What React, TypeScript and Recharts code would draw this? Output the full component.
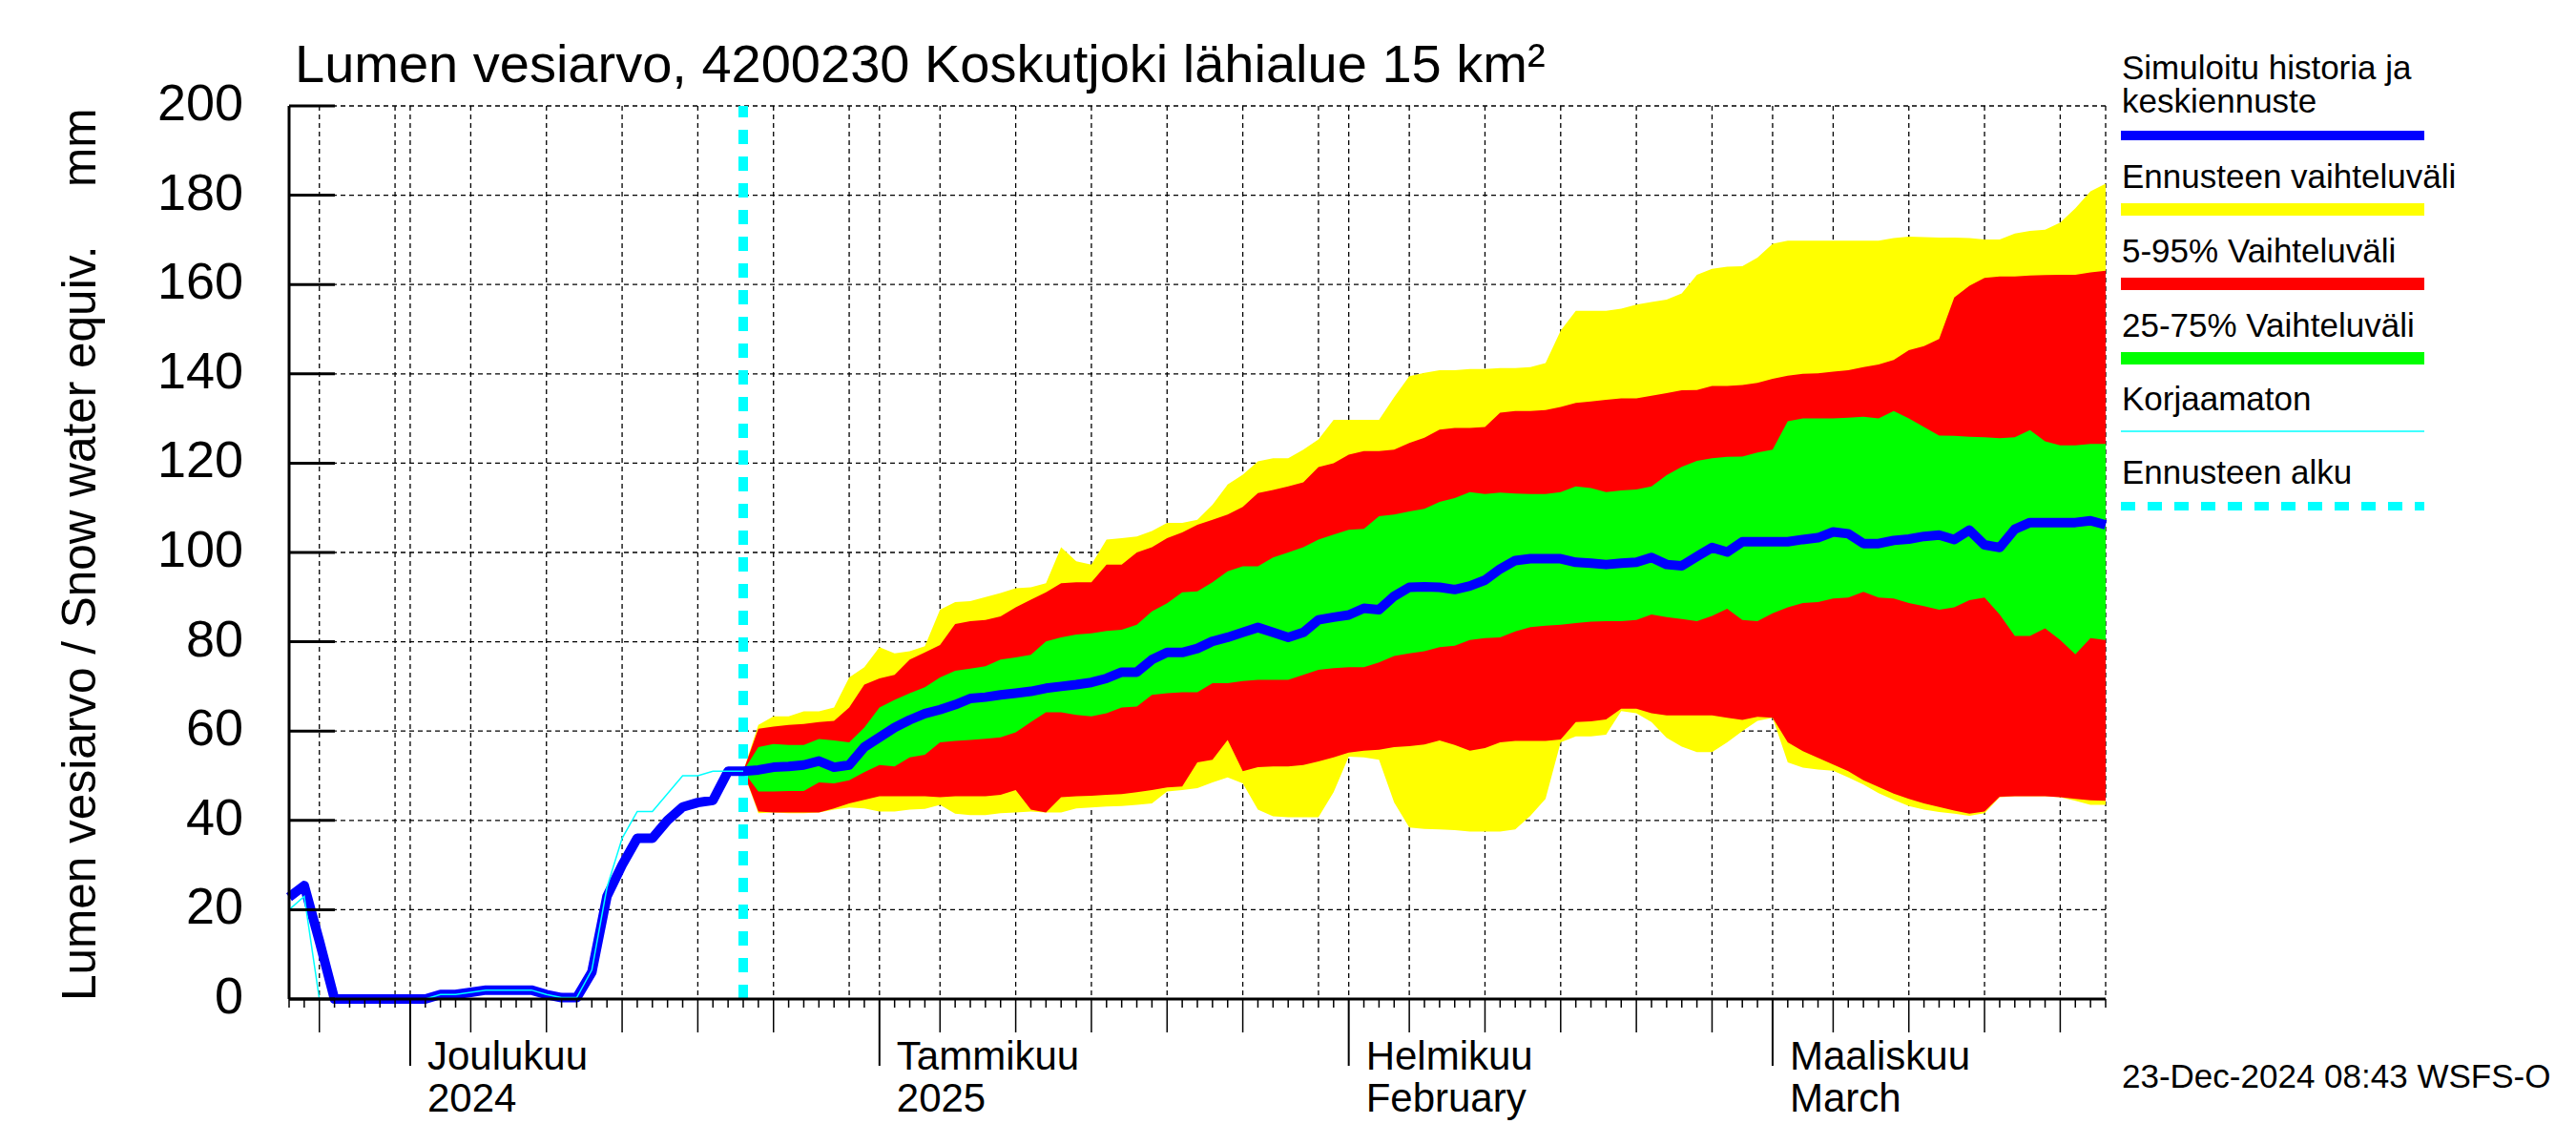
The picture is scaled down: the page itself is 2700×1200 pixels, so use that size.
import React from 'react';
import {
  ComposedChart,
  Area,
  Line,
  XAxis,
  YAxis,
  CartesianGrid,
  ReferenceLine,
} from 'recharts';

// day 0 = 23 Nov 2024, day 120 = 23 Mar 2025
const DAY_COUNT = 121;
const FORECAST_START = 30;

// simulated history (days 0..30)
const historySwe = [
  22.8, 25.4, 13, 0, 0, 0, 0, 0, 0, 0, 1, 1, 1.5, 2, 2, 2, 2, 1, 0.3, 0.3,
  6, 23, 30, 36, 36, 40, 43, 44, 44.5, 51, 51,
];
// uncorrected (Korjaamaton), days 0..30
const historyRaw = [
  20, 23, 0, 0, 0, 0, 0, 0, 0, 0, 1, 1, 1.5, 2, 2, 2, 2, 1, 0.3, 0.3,
  6.5, 25, 36, 42, 42, 46, 50, 50, 51, 51, 51,
];

// forecast, days 30..120
const fcMax = [
  51, 61.4, 63.3, 63.3, 64.4, 64.4, 65.3, 72, 74.3, 78.8,
  77.4, 77.9, 79, 87.2, 88.9, 89.1, 90, 90.9, 92, 92.2,
  93.1, 101.2, 98, 97.3, 102.9, 103.2, 103.6, 104.8, 106.6, 106.6,
  107.3, 110.7, 115.2, 117.4, 120.4, 121.1, 121.1, 123, 125.3, 129.7,
  129.7, 129.7, 129.7, 134.8, 139.5, 140.2, 140.8, 140.8, 141.1, 141.1,
  141.3, 141.3, 141.5, 142.4, 149.7, 154.1, 154.1, 154.1, 154.6, 155.5,
  156.1, 156.6, 158, 162.2, 163.5, 164, 164.1, 166, 169.1, 169.8,
  169.8, 169.8, 169.8, 169.8, 169.8, 169.8, 170.4, 170.7, 170.6, 170.5,
  170.5, 170.4, 170.1, 170.1, 171.4, 172, 172.3, 173.9, 177.1, 180.9,
  182.6,
];
const fcP95 = [
  51, 60.5, 61, 61.4, 61.6, 62, 62.3, 65.3, 70.4, 71.8,
  72.6, 76, 77.6, 79.3, 84, 84.6, 84.9, 85.7, 87.7, 89.4,
  91.1, 93.1, 93.3, 93.3, 97.3, 97.3, 100, 101.2, 103.2, 104.5,
  106.2, 107.3, 108.5, 110.2, 113.3, 114, 114.8, 115.7, 119.1, 120,
  121.9, 122.7, 122.7, 123, 124.5, 125.7, 127.5, 127.9, 127.9, 128.1,
  131.3, 131.7, 131.7, 131.9, 132.6, 133.5, 133.8, 134.2, 134.5, 134.5,
  135.1, 135.7, 136.3, 136.4, 137.3, 137.3, 137.5, 138, 138.9, 139.6,
  140, 140.1, 140.5, 140.8, 141.5, 142.1, 143.1, 145.3, 146.2, 147.8,
  157.1, 159.7, 161.5, 161.8, 161.8, 162, 162.1, 162.2, 162.2, 162.7,
  163.1,
];
const fcP75 = [
  51, 56.4, 57.1, 56.9, 56.9, 58.2, 57.9, 57.5, 60.8, 65.3,
  67, 68.5, 69.8, 72, 73.5, 74, 74.5, 76, 76.5, 77.1,
  80.1, 81, 81.6, 81.9, 82.4, 82.7, 83.8, 86.8, 88.6, 91.1,
  91.3, 93.3, 95.8, 96.9, 96.9, 98.9, 100, 101.2, 102.9, 104,
  105.1, 105.3, 108.1, 108.5, 109.2, 109.8, 111.3, 112.2, 113.5, 113.1,
  113.4, 113.2, 113.1, 113.1, 113.5, 114.8, 114.4, 113.5, 113.9, 114.1,
  114.8, 117.3, 119.2, 120.5, 121.1, 121.4, 121.5, 122.4, 123, 129.4,
  130, 130, 130, 130.2, 130.4, 130, 131.7, 130, 128.1, 126.2,
  126.1, 125.9, 125.8, 125.6, 125.8, 127.4, 124.9, 124, 124, 124.3,
  124.3,
];
const fcMedian = [
  51, 51.3, 51.9, 52.1, 52.4, 53.3, 51.9, 52.4, 56.4, 58.6,
  60.8, 62.5, 63.9, 64.8, 65.9, 67.3, 67.6, 68.1, 68.5, 68.9,
  69.6, 70, 70.4, 70.9, 71.8, 73.2, 73.2, 76, 77.6, 77.6,
  78.5, 80.1, 81, 82.1, 83.2, 82.1, 81, 82.1, 84.9, 85.5,
  86, 87.5, 87.2, 90.2, 92.2, 92.3, 92.2, 91.7, 92.5, 93.8,
  96.3, 98.2, 98.6, 98.6, 98.6, 97.8, 97.6, 97.3, 97.6, 97.8,
  98.9, 97.3, 97, 99.1, 101.1, 100.1, 102.4, 102.4, 102.4, 102.4,
  102.9, 103.3, 104.6, 104.2, 102, 102, 102.7, 103, 103.6, 103.9,
  102.9, 105, 101.7, 101.1, 105.2, 106.7, 106.7, 106.7, 106.7, 107.1,
  106.2,
];
const fcP25 = [
  51, 46.5, 46.5, 46.6, 46.6, 48.5, 48.3, 49, 50.8, 52.4,
  52.1, 54.1, 54.7, 57.5, 57.8, 58, 58.3, 58.6, 59.7, 62,
  64.2, 64.2, 63.6, 63.3, 64, 65.3, 65.5, 68.1, 68.5, 68.7,
  68.7, 70.7, 70.7, 71.2, 71.5, 71.5, 71.5, 72.6, 73.7, 74.1,
  74.3, 74.3, 75.4, 76.8, 77.4, 77.9, 78.8, 79.1, 80.4, 80.8,
  81, 82.3, 83.3, 83.6, 83.8, 84.2, 84.5, 84.6, 84.6, 84.9,
  86.1, 85.5, 85.1, 84.6, 85.8, 87.4, 84.9, 84.6, 86.4, 87.7,
  88.7, 88.9, 89.7, 89.9, 91.2, 89.9, 89.7, 88.7, 88, 87.2,
  87.7, 89.3, 89.9, 86.1, 81.3, 81.3, 83, 80.4, 77.2, 80.8,
  80.4,
];
const fcP5 = [
  51, 42, 41.8, 41.8, 41.8, 41.8, 42.7, 43.8, 44.6, 45.4,
  45.4, 45.4, 45.4, 45.2, 45.4, 45.4, 45.4, 45.7, 46.8, 42.4,
  41.8, 45.2, 45.4, 45.5, 45.7, 45.9, 46.3, 46.8, 47.4, 47.6,
  53, 53.6, 58, 51, 51.9, 52.1, 52.1, 52.4, 53.2, 54.1,
  55.2, 55.6, 55.8, 56.4, 56.6, 57, 57.9, 56.9, 55.6, 56.2,
  57.5, 57.8, 57.8, 57.8, 58.1, 62, 62.2, 62.6, 65, 65,
  64, 63.5, 63.5, 63.5, 63.5, 63, 62.5, 63.2, 63, 57.5,
  55.5, 54, 52.5, 51, 49, 47.5, 46, 44.8, 43.8, 43,
  42.2, 41.5, 42, 45.3, 45.4, 45.4, 45.4, 45.2, 44.8, 44.5,
  44.4,
];
const fcMin = [
  51, 41.6, 41.8, 41.6, 41.6, 41.8, 42.4, 42.9, 42.7, 42,
  42, 42.4, 42.6, 43.5, 41.5, 41.2, 41.2, 41.6, 41.8, 42,
  41.8, 41.8, 42.7, 42.9, 43.1, 43.2, 43.5, 43.8, 46.5, 46.8,
  47.2, 48.5, 49.6, 48.3, 42.4, 40.9, 40.7, 40.7, 40.7, 46.3,
  54.3, 54.1, 53.6, 44, 38.4, 38.1, 38, 37.8, 37.5, 37.5,
  37.5, 38, 41, 44.8, 57.5, 58.8, 58.8, 59.2, 64.5, 64,
  62, 58.5, 56.5, 55.3, 55.3, 57.5, 60, 62.3, 63, 53,
  51.8, 51.4, 51.1, 49.6, 48, 46.1, 44.6, 43.2, 42.4, 41.9,
  41.5, 41, 41.6, 45.2, 45.4, 45.4, 45.4, 45.2, 44.4, 43.5,
  43.5,
];

// x axis
const monthStartDays = [8, 39, 70, 98];
const monthLabels = [
  ['Joulukuu', '2024'],
  ['Tammikuu', '2025'],
  ['Helmikuu', 'February'],
  ['Maaliskuu', 'March'],
];
const fiveDayTicks = [2, 12, 17, 22, 27, 32, 43, 48, 53, 58, 63, 74, 79, 84, 89, 94, 102, 107, 112, 117];
const gridDays = [2, 7, 8, 12, 17, 22, 27, 32, 37, 39, 43, 48, 53, 58, 63, 68, 70, 74, 79, 84, 89, 94, 98, 102, 107, 112, 117, 120];
const allDays = Array.from({ length: DAY_COUNT }, (_, i) => i);
const yTicks = [0, 20, 40, 60, 80, 100, 120, 140, 160, 180, 200];

const FONT = '"Liberation Sans", Arial, Helvetica, sans-serif';

const data = allDays.map((day) => {
  const f = day - FORECAST_START;
  const inFc = f >= 0;
  return {
    day,
    swe: day <= FORECAST_START ? historySwe[day] : fcMedian[f],
    raw: day <= FORECAST_START ? historyRaw[day] : undefined,
    full: inFc ? [fcMin[f], fcMax[f]] : undefined,
    p595: inFc ? [fcP5[f], fcP95[f]] : undefined,
    p2575: inFc ? [fcP25[f], fcP75[f]] : undefined,
  };
});

const DayTick = (props: any) => {
  const { x, y, payload } = props;
  const d = payload.value;
  const m = monthStartDays.indexOf(d);
  const len = m >= 0 ? 70 : fiveDayTicks.includes(d) ? 35 : 9;
  return (
    <g>
      <line x1={x} x2={x} y1={y} y2={y + len} stroke="#000" strokeWidth={m >= 0 ? 2 : 1.5} />
      {m >= 0 && (
        <text fontFamily={FONT} fontSize={42} fill="#000">
          <tspan x={x + 18} y={y + 74}>{monthLabels[m][0]}</tspan>
          <tspan x={x + 18} y={y + 118}>{monthLabels[m][1]}</tspan>
        </text>
      )}
    </g>
  );
};

const ValueTick = (props: any) => {
  const { x, y, payload } = props;
  return (
    <g>
      <line x1={x} x2={x + 48} y1={y} y2={y} stroke="#000" strokeWidth={3} />
      <text x={x - 48} y={y + 15} textAnchor="end" fontFamily={FONT} fontSize={54} fill="#000">
        {payload.value}
      </text>
    </g>
  );
};

const legendText = [
  'Ennusteen vaihteluväli',
  '5-95% Vaihteluväli',
  '25-75% Vaihteluväli',
];
const bandColors = ['#FFFF00', '#FF0000', '#00FF00'];

const Overlay = () => (
  <svg
    width={2700}
    height={1200}
    style={{ position: 'absolute', left: 0, top: 0, pointerEvents: 'none' }}
  >
    <text x={309} y={86} fontFamily={FONT} fontSize={56} fill="#000">
      Lumen vesiarvo, 4200230 Koskutjoki lähialue 15 km²
    </text>
    <text transform="translate(100,1049) rotate(-90)" fontFamily={FONT} fontSize={49.5} fill="#000">
      Lumen vesiarvo / Snow water equiv.
    </text>
    <text transform="translate(100,196) rotate(-90)" fontFamily={FONT} fontSize={49.5} fill="#000">
      mm
    </text>

    <g fontFamily={FONT} fontSize={35} fill="#000">
      <text x={2224} y={83}>Simuloitu historia ja</text>
      <text x={2224} y={118}>keskiennuste</text>
      <rect x={2223} y={137} width={318} height={10} fill="#0000FF" />
      {legendText.map((t, i) => (
        <g key={t}>
          <text x={2224} y={197 + i * 78}>{t}</text>
          <rect x={2223} y={213 + i * 78} width={318} height={13} fill={bandColors[i]} />
        </g>
      ))}
      <text x={2224} y={430}>Korjaamaton</text>
      <line x1={2223} x2={2541} y1={452} y2={452} stroke="#00FFFF" strokeWidth={1.5} />
      <text x={2224} y={507}>Ennusteen alku</text>
      <line x1={2223} x2={2541} y1={530.5} y2={530.5} stroke="#00FFFF" strokeWidth={9} strokeDasharray="15 13" />
      <text x={2224} y={1140}>23-Dec-2024 08:43 WSFS-O</text>
    </g>
  </svg>
);

export default function App() {
  return (
    <div style={{ position: 'absolute', left: 0, top: 0, width: 2700, height: 1200, background: '#fff' }}>
      <ComposedChart
        width={2700}
        height={1200}
        data={data}
        margin={{ top: 111, right: 493, bottom: 123, left: 203 }}
      >
        <XAxis
          xAxisId="grid"
          orientation="top"
          type="number"
          dataKey="day"
          domain={[0, 120]}
          ticks={gridDays}
          height={0}
          allowDataOverflow
          hide
        />
        <XAxis
          xAxisId="main"
          type="number"
          dataKey="day"
          domain={[0, 120]}
          ticks={allDays}
          interval={0}
          height={30}
          tickSize={0}
          tickMargin={0}
          tickLine={false}
          tick={<DayTick />}
          axisLine={{ stroke: '#000', strokeWidth: 3 }}
        />
        <YAxis
          type="number"
          domain={[0, 200]}
          ticks={yTicks}
          interval={0}
          width={100}
          tickSize={0}
          tickMargin={0}
          tickLine={false}
          tick={<ValueTick />}
          axisLine={{ stroke: '#000', strokeWidth: 3 }}
        />
        <CartesianGrid xAxisId="grid" stroke="#000" strokeWidth={1.3} strokeDasharray="5 4" />
        <Area xAxisId="main" dataKey="full" type="linear" stroke="none" fill="#FFFF00" fillOpacity={1} isAnimationActive={false} dot={false} activeDot={false} />
        <Area xAxisId="main" dataKey="p595" type="linear" stroke="none" fill="#FF0000" fillOpacity={1} isAnimationActive={false} dot={false} activeDot={false} />
        <Area xAxisId="main" dataKey="p2575" type="linear" stroke="none" fill="#00FF00" fillOpacity={1} isAnimationActive={false} dot={false} activeDot={false} />
        <ReferenceLine xAxisId="main" x={FORECAST_START} stroke="#00FFFF" strokeWidth={10} strokeDasharray="15 13" />
        <Line xAxisId="main" dataKey="swe" type="linear" stroke="#0000FF" strokeWidth={10} strokeLinejoin="round" dot={false} activeDot={false} isAnimationActive={false} />
        <Line xAxisId="main" dataKey="raw" type="linear" stroke="#00FFFF" strokeWidth={1.5} dot={false} activeDot={false} isAnimationActive={false} />
      </ComposedChart>
      <Overlay />
    </div>
  );
}
